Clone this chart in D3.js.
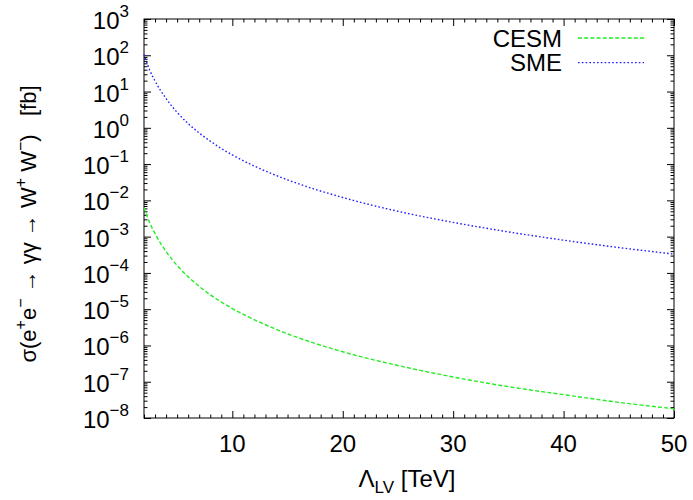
<!DOCTYPE html>
<html><head><meta charset="utf-8">
<script src="https://cdn.jsdelivr.net/npm/d3@7"></script>
<style>
body{margin:0;background:#fff}
svg{display:block}
text{font-family:"Liberation Sans",Arial,Helvetica,sans-serif;fill:#000}
</style>
</head><body><svg id="c" width="693" height="500"></svg>
<script>
// Data
const lambdaLV = [2, 2.5, 3, 4, 5, 6, 7, 8, 9, 10, 12, 15, 20, 25, 30, 35, 40, 45, 50];
const smeSigma = [105, 40, 19.5, 6.4, 2.67, 1.31, 0.72, 0.43, 0.269, 0.179, 0.088, 0.0368, 0.012, 0.005, 0.00247, 0.00135, 0.0008, 0.0005, 0.00033];
const cesmSigma = [6.3e-3, 2.48e-3, 1.21e-3, 3.88e-4, 1.61e-4, 7.8e-5, 4.25e-5, 2.5e-5, 1.58e-5, 1.04e-5, 5.1e-6, 2.1e-6, 6.7e-7, 2.8e-7, 1.35e-7, 7.3e-8, 4.4e-8, 2.7e-8, 1.8e-8];
const xTickValues = [10, 20, 30, 40, 50];
const yTickExponents = [3, 2, 1, 0, -1, -2, -3, -4, -5, -6, -7, -8];
const seriesNames = ["CESM", "SME"];

const W = 693, H = 500;
const L = 144, R = 674, T = 19, B = 418;
const svg = d3.select("#c");

const x = d3.scaleLinear().domain([2, 50]).range([L, R]);
const y = d3.scaleLog().domain([1e-8, 1e3]).range([B, T]);

// minor ticks
const xMinor = d3.range(2, 51, 1).filter(v => !xTickValues.includes(v));
const yMajor = yTickExponents.map(e => Math.pow(10, e));
const yMinor = [];
for (let e = -8; e < 3; e++) for (let k = 2; k <= 9; k++) yMinor.push(k * Math.pow(10, e));

const ax = svg.append("g").attr("class", "axes");
function addAxis(gen, tx, ty) {
  const g = ax.append("g").attr("transform", `translate(${tx},${ty})`).call(gen);
  g.select(".domain").remove();
  g.selectAll("line").attr("stroke", "#000").attr("stroke-width", 1);
  g.selectAll("text").remove();
}
// bottom / top
addAxis(d3.axisBottom(x).tickValues(xTickValues).tickSize(-7).tickFormat(""), 0, B);
addAxis(d3.axisBottom(x).tickValues(xMinor).tickSize(-3.5).tickFormat(""), 0, B);
addAxis(d3.axisTop(x).tickValues(xTickValues).tickSize(-7).tickFormat(""), 0, T);
addAxis(d3.axisTop(x).tickValues(xMinor).tickSize(-3.5).tickFormat(""), 0, T);
// left / right
addAxis(d3.axisLeft(y).tickValues(yMajor).tickSize(-7).tickFormat(""), L, 0);
addAxis(d3.axisLeft(y).tickValues(yMinor).tickSize(-3.5).tickFormat(""), L, 0);
addAxis(d3.axisRight(y).tickValues(yMajor).tickSize(-7).tickFormat(""), R, 0);
addAxis(d3.axisRight(y).tickValues(yMinor).tickSize(-3.5).tickFormat(""), R, 0);

// frame
svg.append("rect").attr("x", L).attr("y", T).attr("width", R - L).attr("height", B - T)
  .attr("fill", "none").attr("stroke", "#000").attr("stroke-width", 1);

// x tick labels
svg.append("g").selectAll("text").data(xTickValues).join("text")
  .attr("x", d => x(d)).attr("y", B + 34)
  .attr("text-anchor", "middle").attr("font-size", 24).text(d => d);

// y tick labels with superscript
const yl = svg.append("g").selectAll("text").data(yTickExponents).join("text")
  .attr("x", 129).attr("y", d => y(Math.pow(10, d)) + 10)
  .attr("text-anchor", "end").attr("font-size", 24);
yl.append("tspan").text("10");
yl.append("tspan").attr("font-size", 17).attr("dy", -12)
  .text(d => d < 0 ? "\u2212" + (-d) : String(d));

// x axis title
const xt = svg.append("text").attr("x", (L + R) / 2 - 2).attr("y", 487)
  .attr("text-anchor", "middle").attr("font-size", 24);
xt.append("tspan").text("\u039B");
xt.append("tspan").attr("font-size", 17).attr("dy", 6).text("LV");
xt.append("tspan").attr("dy", -6).text(" [TeV]");

// y axis title
const yt = svg.append("text").attr("transform", `translate(36,224) rotate(-90)`)
  .attr("text-anchor", "middle").attr("font-size", 22);
yt.append("tspan").text("\u03C3(e");
yt.append("tspan").attr("font-size", 16).attr("dy", -10).text("+");
yt.append("tspan").attr("dy", 10).text("e");
yt.append("tspan").attr("font-size", 16).attr("dy", -10).text("\u2212");
yt.append("tspan").attr("dy", 10).text(" \u2192 \u03B3\u03B3 \u2192 W");
yt.append("tspan").attr("font-size", 16).attr("dy", -10).text("+");
yt.append("tspan").attr("dy", 10).text(" W");
yt.append("tspan").attr("font-size", 16).attr("dy", -10).text("\u2212");
yt.append("tspan").attr("dy", 10).text(")\u00A0\u00A0\u00A0[fb]");

// curves
const line = (vals) => d3.line()
  .x((d, i) => x(lambdaLV[i]))
  .y((d, i) => y(vals[i]))
  .curve(d3.curveMonotoneX)(vals);

const styles = {
  CESM: {color: "#22ee22", dash: "4,2.2", vals: cesmSigma},
  SME: {color: "#2222ff", dash: "1.6,2.2", vals: smeSigma}
};

const plot = svg.append("g");
seriesNames.forEach(n => {
  const s = styles[n];
  plot.append("path").attr("d", line(s.vals)).attr("fill", "none")
    .attr("stroke", s.color).attr("stroke-width", 1.4).attr("stroke-dasharray", s.dash);
});

// legend
const leg = svg.append("g");
seriesNames.forEach((n, i) => {
  const s = styles[n];
  const ly = 38 + i * 24.6;
  leg.append("text").attr("x", 562).attr("y", ly + 8.5).attr("text-anchor", "end")
    .attr("font-size", 24).text(n);
  leg.append("line").attr("x1", 578).attr("x2", 644).attr("y1", ly).attr("y2", ly)
    .attr("stroke", s.color).attr("stroke-width", 1.4).attr("stroke-dasharray", s.dash);
});
</script>
</body></html>
